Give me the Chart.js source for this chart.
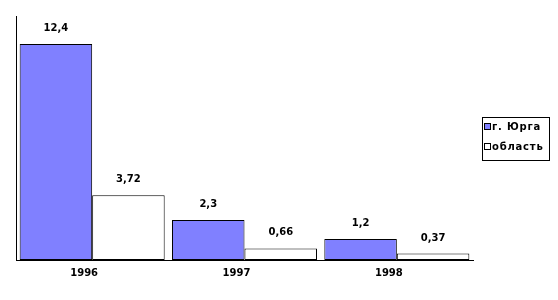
<!DOCTYPE html>
<html>
<head>
<meta charset="utf-8">
<script src="https://cdn.jsdelivr.net/npm/chart.js@4/dist/chart.umd.min.js"></script>
<style>
  html, body { margin: 0; padding: 0; background: #fff; }
  #wrap { width: 558px; height: 300px; }
</style>
</head>
<body>
<div id="wrap"><canvas id="c" width="558" height="300"></canvas></div>
<script>
const years = ['1996', '1997', '1998'];
const yurga = [12.4, 2.3, 1.2];
const oblast = [3.72, 0.66, 0.37];
const seriesNames = ['г. Юрга', 'область'];

const fmt = v => String(v).replace('.', ',');

// value labels above each bar
const valueLabels = {
  id: 'valueLabels',
  afterDatasetsDraw(chart) {
    const ctx = chart.ctx;
    ctx.save();
    ctx.font = 'bold 10px "DejaVu Sans"';
    ctx.fillStyle = '#000';
    ctx.textAlign = 'center';
    ctx.textBaseline = 'alphabetic';
    chart.data.datasets.forEach((ds, i) => {
      chart.getDatasetMeta(i).data.forEach((bar, j) => {
        ctx.fillText(fmt(ds.data[j]), bar.x, bar.y - 13);
      });
    });
    ctx.restore();
  }
};

// framed legend to the right of the plot
const boxedLegend = {
  id: 'boxedLegend',
  afterDraw(chart) {
    const ctx = chart.ctx;
    const area = chart.chartArea;
    const x0 = area.right + 9, y0 = 117, w = 67, h = 43;
    ctx.save();
    ctx.strokeStyle = '#000';
    ctx.lineWidth = 1;
    ctx.strokeRect(x0 + 0.5, y0 + 0.5, w, h);
    ctx.font = 'bold 10px "DejaVu Sans"';
    ctx.letterSpacing = '0.8px';
    ctx.textAlign = 'left';
    ctx.textBaseline = 'middle';
    chart.data.datasets.forEach((ds, i) => {
      const cy = y0 + 10 + i * 20;
      ctx.fillStyle = ds.backgroundColor;
      ctx.fillRect(x0 + 2.5, cy - 3.5, 6, 6);
      ctx.strokeRect(x0 + 2.5, cy - 3.5, 6, 6);
      ctx.fillStyle = '#000';
      ctx.fillText(ds.label, x0 + 10, cy);
    });
    ctx.restore();
  }
};

new Chart(document.getElementById('c'), {
  type: 'bar',
  data: {
    labels: years,
    datasets: [
      { label: seriesNames[0], data: yurga, backgroundColor: '#8080FF',
        borderColor: '#000', borderWidth: 1, borderSkipped: false },
      { label: seriesNames[1], data: oblast, backgroundColor: '#FFFFFF',
        borderColor: '#000', borderWidth: 1, borderSkipped: false }
    ]
  },
  options: {
    responsive: false,
    animation: false,
    devicePixelRatio: 1,
    layout: { padding: { left: 16, top: 16, right: 85, bottom: 14 } },
    datasets: { bar: { categoryPercentage: 0.952, barPercentage: 1.0 } },
    scales: {
      x: {
        grid: { display: false, drawTicks: false },
        border: { display: true, color: '#000', width: 1 },
        ticks: { color: '#000', font: { family: 'DejaVu Sans', size: 10, weight: 'bold' },
                 padding: 7, labelOffset: -8, maxRotation: 0 }
      },
      y: {
        min: 0, max: 14,
        grid: { display: false, drawTicks: false },
        border: { display: true, color: '#000', width: 1 },
        ticks: { display: false }
      }
    },
    plugins: {
      legend: { display: false },
      tooltip: { enabled: false }
    }
  },
  plugins: [valueLabels, boxedLegend]
});
</script>
</body>
</html>
